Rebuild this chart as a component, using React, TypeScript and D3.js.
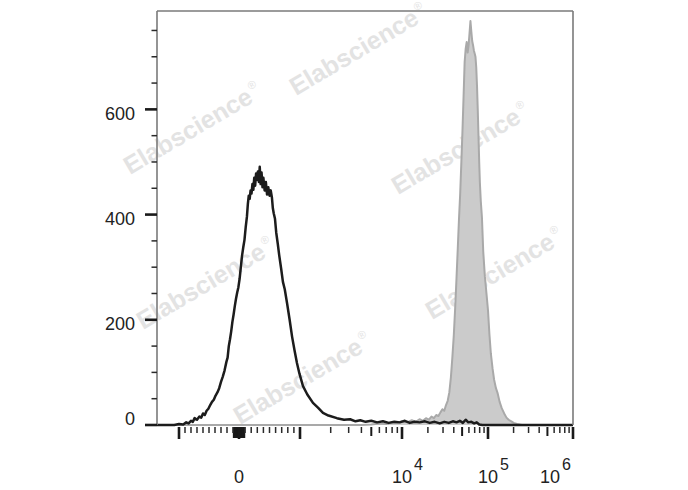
import React from 'react';
import * as d3 from 'd3';

// ---------- data ----------
// Isotype / unstained control (black line): fluorescence value and event count
const isotypeValues = [
  -2330, -1200, -1000, -930, -880, -840, -800, -770, -740, -700, -660, -630, -600, -570, -540, -510,
  -480, -450, -420, -390, -360, -330, -300, -270, -240, -210, -190, -170, -150, -130, -110, -90,
  -70, -50, -30, -10, 10, 30, 50, 70, 90, 110, 130, 145, 160, 175, 190, 205,
  220, 235, 250, 265, 280, 295, 310, 325, 340, 355, 370, 385, 400, 420, 440, 460,
  480, 500, 520, 540, 555, 570, 590, 610, 635, 660, 690, 720, 750, 790, 830, 870,
  910, 950, 990, 1070, 1180, 1340, 1500, 1680, 1900, 2300, 2700, 3100, 3500, 3900, 4400, 5000,
  5700, 6500, 7400, 8400, 9500, 10800, 12300, 14000, 16000, 18500, 21000, 24000, 27500, 31000, 35000, 39000,
  43000, 47000, 51000, 55000, 59000, 64000, 69000, 74000, 79000, 86000, 1000000,
];
const isotypeCounts = [
  0, 0, 2, 1, 5, 3, 8, 6, 13, 10, 16, 14, 22, 19, 27, 31,
  38, 44, 48, 56, 62, 70, 82, 92, 104, 120, 128, 150, 163, 178, 196, 210,
  226, 240, 252, 262, 278, 300, 322, 338, 352, 376, 396, 420, 436, 430, 446, 440,
  458, 447, 470, 455, 478, 466, 482, 462, 491, 458, 480, 452, 470, 446, 462, 438,
  452, 436, 446, 432, 412, 402, 392, 366, 345, 322, 298, 272, 258, 230, 200, 168,
  142, 118, 98, 74, 58, 42, 33, 23, 18, 13, 10, 11, 7, 9, 6, 8,
  5, 7, 4, 6, 5, 8, 4, 6, 5, 7, 4, 6, 3, 6, 4, 7,
  5, 8, 4, 10, 5, 6, 3, 5, 1, 0, 0,
];

// Stained sample (grey filled histogram)
const sampleValues = [
  -2330, 4000, 5000, 6000, 7000, 8000, 9000, 10000, 11500, 13000, 14500, 16000, 17500, 19000, 20500, 22000,
  23500, 25000, 26500, 28000, 29500, 31000, 32500, 34000, 35500, 37000, 38500, 40000, 41500, 43000, 44500, 46000,
  47500, 49000, 50500, 52000, 53500, 55000, 56500, 58000, 59500, 61000, 62500, 64000, 65500, 67000, 68500, 70000,
  71500, 73000, 74500, 76000, 77500, 79000, 80500, 82500, 85000, 88000, 92000, 96000, 100000, 104000, 108000, 113000,
  118000, 124000, 130000, 137000, 145000, 155000, 165000, 175000, 188000, 200000, 220000, 250000, 1000000,
];
const sampleCounts = [
  0, 0, 1, 3, 2, 5, 4, 7, 5, 9, 6, 11, 8, 13, 10, 16,
  13, 19, 17, 24, 30, 27, 38, 46, 62, 90, 128, 170, 222, 278, 335, 392,
  440, 500, 560, 625, 690, 715, 728, 708, 722, 745, 768, 748, 730, 722, 712, 706,
  700, 680, 645, 600, 550, 500, 460, 425, 395, 330, 282, 250, 218, 172, 136, 108,
  86, 70, 60, 44, 32, 22, 14, 10, 7, 4, 2, 0, 0,
];

// axes
const yMajorTicks = [0, 200, 400, 600];
const yMinorTicks = [50, 100, 150, 250, 300, 350, 450, 500, 550, 650, 700, 750];
const yMax = 787;
const xMajorTicks = [-1000, 0, 1000, 10000, 100000, 1000000];
const xLabelTicks = [
  { v: 0, base: '0', exp: '' },
  { v: 10000, base: '10', exp: '4' },
  { v: 100000, base: '10', exp: '5' },
  { v: 1000000, base: '10', exp: '6' },
];
const watermarkText = 'Elabscience';

// ---------- layout ----------
const W = 688;
const H = 490;
const plot = { left: 157, right: 573, top: 11, bottom: 425 };
const FONT = "'Liberation Sans', Arial, Helvetica, sans-serif";

// biexponential-like display transform: linear within ±1000, log decades beyond
function toDisplay(v: number) {
  const a = Math.abs(v);
  return a <= 1000 ? v / 1000 : Math.sign(v) * (1 + Math.log10(a / 1000));
}
const tBreaks = [toDisplay(-2330), -1, 0, 1, 2, 3, 4];
const segWidths = [22, 60, 61, 102, 86, 85];
const rangeStops = segWidths.reduce((acc, w) => [...acc, acc[acc.length - 1] + w], [plot.left]);
const tScale = d3.scaleLinear().domain(tBreaks).range(rangeStops).clamp(true);
const x = (v: number) => tScale(toDisplay(v));
const y = d3.scaleLinear().domain([0, yMax]).range([plot.bottom, plot.top]);

// minor ticks on x
const xMinorTicks: number[] = [];
for (let k = 100; k < 1000; k += 100) { xMinorTicks.push(k, -k); }
for (const dec of [1000, 10000, 100000]) {
  for (let m = 2; m <= 9; m++) if (m !== 5) xMinorTicks.push(m * dec);
}
const xMidTicks = [5000, 50000, 500000];
const xClusterTicks: number[] = [];
for (let k = 10; k < 100; k += 10) { xClusterTicks.push(k, -k); }

const watermarks = [
  { x: 296, y: 96 },
  { x: 130, y: 175 },
  { x: 398, y: 195 },
  { x: 143, y: 330 },
  { x: 432, y: 320 },
  { x: 240, y: 425 },
];

export default function App() {
  const sample = sampleValues.map((v, i) => [v, sampleCounts[i]] as [number, number]);
  const iso = isotypeValues.map((v, i) => [v, isotypeCounts[i]] as [number, number]);
  const area = d3.area<[number, number]>().x(d => x(d[0])).y0(y(0)).y1(d => y(d[1]));
  const line = d3.line<[number, number]>().x(d => x(d[0])).y(d => y(d[1]));

  const tickTop = plot.bottom + 2;

  return (
    <svg width={W} height={H} style={{ position: 'absolute', left: 0, top: 0, background: '#fff' }}
      fontFamily={FONT}>
      <rect x={0} y={0} width={W} height={H} fill="#fff" />
      {/* watermark */}
      {watermarks.map((w, i) => (
        <text key={i} transform={`translate(${w.x},${w.y}) rotate(-30.5)`} fontSize={25} fontWeight="bold"
          fill="#e3e3e3">
          {watermarkText}
          <tspan fontSize={11} fontWeight="normal" dx={2} dy={-12}>®</tspan>
        </text>
      ))}
      {/* sample histogram */}
      <path d={area(sample) || ''} fill="#cbcbcb" stroke="none" />
      <path d={line(sample) || ''} fill="none" stroke="#a9a9a9" strokeWidth={2} strokeLinejoin="round" />
      {/* isotype */}
      <path d={line(iso) || ''} fill="none" stroke="#1c1c1c" strokeWidth={2.5} strokeLinejoin="round" />
      {/* frame */}
      <line x1={plot.left} x2={plot.right} y1={plot.top} y2={plot.top} stroke="#7a7a7a" strokeWidth={1.6} />
      <line x1={plot.right} x2={plot.right} y1={plot.top} y2={plot.bottom} stroke="#7a7a7a" strokeWidth={1.6} />
      <line x1={plot.left} x2={plot.left} y1={plot.top} y2={plot.bottom} stroke="#7a7a7a" strokeWidth={1.6} />
      {/* y ticks */}
      {yMinorTicks.map(t => (
        <line key={'ym' + t} x1={plot.left - 5.5} x2={plot.left} y1={y(t)} y2={y(t)} stroke="#2a2a2a" strokeWidth={1.5} />
      ))}
      {yMajorTicks.map(t => (
        <line key={'yM' + t} x1={plot.left - 12} x2={plot.left} y1={y(t)} y2={y(t)} stroke="#1a1a1a" strokeWidth={2.6} />
      ))}
      {yMajorTicks.map(t => (
        <text key={'yl' + t} x={135} y={Math.min(y(t) + 4, 419)} dy="0.35em" textAnchor="end" fontSize={18} fill="#222">
          {t}
        </text>
      ))}
      {/* x ticks */}
      {xClusterTicks.map(t => (
        <line key={'xc' + t} x1={x(t)} x2={x(t)} y1={tickTop} y2={tickTop + 11} stroke="#1a1a1a" strokeWidth={1.5} />
      ))}
      {xMinorTicks.map(t => (
        <line key={'xm' + t} x1={x(t)} x2={x(t)} y1={tickTop} y2={tickTop + 6} stroke="#2a2a2a" strokeWidth={1.5} />
      ))}
      {xMidTicks.map(t => (
        <line key={'xd' + t} x1={x(t)} x2={x(t)} y1={tickTop} y2={tickTop + 9} stroke="#1a1a1a" strokeWidth={2} />
      ))}
      {xMajorTicks.map(t => (
        <line key={'xM' + t} x1={x(t)} x2={x(t)} y1={tickTop} y2={tickTop + 12} stroke="#1a1a1a" strokeWidth={2.6} />
      ))}
      {xLabelTicks.map((t, i) => {
        if (!t.exp) {
          return (
            <text key={'xl' + i} x={x(t.v)} y={483} textAnchor="middle" fontSize={18} fill="#222">{t.base}</text>
          );
        }
        const isLast = i === xLabelTicks.length - 1;
        const startX = x(t.v) - 10 - (isLast ? 23 : 0);
        return (
          <text key={'xl' + i} x={startX} y={483} fontSize={18} fill="#222">
            {t.base}
            <tspan fontSize={16} dx={2} dy={-13}>{t.exp}</tspan>
          </text>
        );
      })}
    </svg>
  );
}
